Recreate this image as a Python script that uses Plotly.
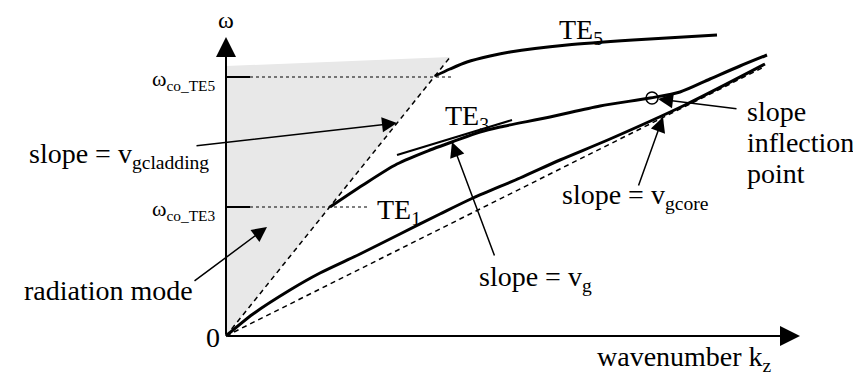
import plotly.graph_objects as go

# Data coordinates: kz (horizontal), omega (vertical)
TE1_k = [0, 27, 64, 94, 134, 174, 214, 247, 294, 334, 384, 459, 539]
TE1_w = [0, 22, 46, 63, 82, 102, 122, 138, 158, 176, 197, 231, 272]
TE3_k = [104, 137, 171, 204, 226, 254, 274, 324, 374, 424, 454, 484, 514, 541]
TE3_w = [129, 151, 172, 186, 194, 204, 209, 219, 230, 238, 244, 257, 270, 281]
TE5_k = [209, 224, 241, 264, 284, 341, 407, 491]
TE5_w = [260, 267, 274, 280, 284, 291, 296, 301]

CLAD_k = [0, 225]
CLAD_w = [0, 280]
CORE_k = [0, 538]
CORE_w = [0, 269]
SHADE_k = [0, 0, 224, 0]
SHADE_w = [0, 270, 279, 0]
TANGENT_k = [171, 286]
TANGENT_w = [181, 216]
CUTOFF_W = [259, 129]
CUTOFF_END_K = [227, 144]
INFLECT_K = [426]
INFLECT_W = [238]

FONT = "Liberation Serif"

fig = go.Figure()

fig.add_trace(go.Scatter(x=SHADE_k, y=SHADE_w, fill="toself", fillcolor="#e8e8e8",
                         line=dict(width=0), mode="lines", hoverinfo="skip"))
fig.add_trace(go.Scatter(x=CLAD_k, y=CLAD_w, mode="lines",
                         line=dict(color="black", width=1.5, dash="5px,4px")))
fig.add_trace(go.Scatter(x=CORE_k, y=CORE_w, mode="lines",
                         line=dict(color="black", width=1.5, dash="5px,4px")))
for w, ke in zip(CUTOFF_W, CUTOFF_END_K):
    fig.add_trace(go.Scatter(x=[0, 24], y=[w, w], mode="lines",
                             line=dict(color="black", width=2)))
    fig.add_trace(go.Scatter(x=[24, ke], y=[w, w], mode="lines",
                             line=dict(color="black", width=1, dash="dot")))
for kk, ww in [(TE1_k, TE1_w), (TE3_k, TE3_w), (TE5_k, TE5_w)]:
    fig.add_trace(go.Scatter(x=kk, y=ww, mode="lines",
                             line=dict(color="black", width=3, shape="spline", smoothing=0.8)))
fig.add_trace(go.Scatter(x=TANGENT_k, y=TANGENT_w, mode="lines",
                         line=dict(color="black", width=2)))
fig.add_trace(go.Scatter(x=INFLECT_K, y=INFLECT_W, mode="markers",
                         marker=dict(symbol="circle-open", size=12, color="black",
                                     line=dict(width=1.5))))

ann = []
def arrow(tk, tw, hk, hw, width=1.5, size=2):
    ann.append(dict(x=hk, y=hw, ax=tk, ay=tw, xref="x", yref="y", axref="x", ayref="y",
                    showarrow=True, arrowhead=2, arrowwidth=width, arrowsize=size,
                    arrowcolor="black", text=""))

arrow(0, 0, 0, 299, width=2, size=2)
arrow(0, 0, 574, 0, width=2, size=2)
arrow(-31, 190, 171, 213)
arrow(-33, 54, 41, 109)
arrow(269, 79, 226, 194)
arrow(412, 149, 437, 219)
arrow(512, 227, 432, 237)

def text(k, w, s, size=28, xanchor="left"):
    ann.append(dict(x=k, y=w, xref="x", yref="y", text=s, showarrow=False,
                    xanchor=xanchor, yanchor="middle",
                    font=dict(family=FONT, size=size, color="black")))

text(0, 316, "ω", size=24, xanchor="center")
text(-8, 256, "ω<sub>co_TE5</sub>", size=22, xanchor="right")
text(-8, 126, "ω<sub>co_TE3</sub>", size=22, xanchor="right")
text(-199, 181, "slope = v<sub>gcladding</sub>")
text(-204, 46, "radiation mode")
text(-4, -1, "0", xanchor="right")
text(149, 125, "TE<sub>1</sub>")
text(217, 219, "TE<sub>3</sub>")
text(331, 305, "TE<sub>5</sub>")
text(251, 58, "slope = v<sub>g</sub>")
text(334, 140, "slope = v<sub>gcore</sub>")
text(519, 225, "slope")
text(519, 194, "inflection")
text(519, 163, "point")
text(369, -22, "wavenumber k<sub>z</sub>")

# page body adds an 8px offset; shift ranges to compensate
fig.update_layout(
    width=861, height=384, margin=dict(l=0, r=0, t=0, b=0),
    paper_bgcolor="white", plot_bgcolor="white", showlegend=False,
    xaxis=dict(range=[-218, 643], visible=False, fixedrange=True),
    yaxis=dict(range=[-56, 328], visible=False, fixedrange=True),
    annotations=ann,
)
fig.write_html("out.html")
